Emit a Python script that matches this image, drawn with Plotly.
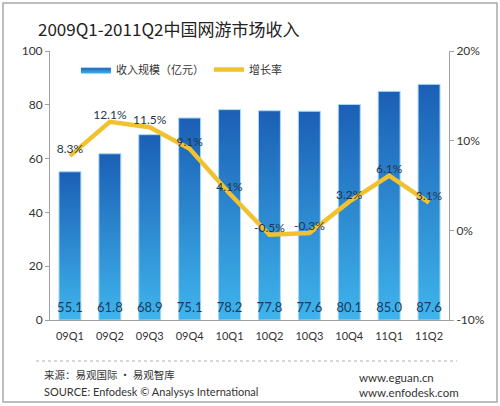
import plotly.graph_objects as go

categories = ["09Q1", "09Q2", "09Q3", "09Q4", "10Q1", "10Q2", "10Q3", "10Q4", "11Q1", "11Q2"]
revenue = [55.1, 61.8, 68.9, 75.1, 78.2, 77.8, 77.6, 80.1, 85.0, 87.6]
growth = [8.3, 12.1, 11.5, 9.1, 4.1, -0.5, -0.3, 3.2, 6.1, 3.1]
left_ticks = [0, 20, 40, 60, 80, 100]
right_ticks = [-10, 0, 10, 20]
right_tick_labels = ["-10%", "0%", "10%", "20%"]

FONT = "Lato, 'Noto Sans CJK SC', sans-serif"
CJK = "'Noto Sans CJK SC', Lato, sans-serif"
TXT = "#333333"
half = 0.275

fig = go.Figure()

# bars drawn as gradient-filled areas on numeric x positions
for i, v in enumerate(revenue):
    fig.add_trace(go.Scatter(
        x=[i - half, i - half, i + half, i + half, i - half],
        y=[0, v, v, 0, 0],
        mode="lines", fill="toself",
        line=dict(color="#a8d8f2", width=1),
        fillgradient=dict(type="vertical",
                          colorscale=[[0, "#3fb4ec"], [1, "#1b5fb5"]]),
        name="收入规模（亿元）", legendgroup="rev",
        showlegend=(i == 0), hoverinfo="skip",
    ))

# value labels at bar bottoms
fig.add_trace(go.Scatter(
    x=list(range(len(categories))), y=[4.3] * len(revenue),
    mode="text", text=[f"{v:.1f}" for v in revenue],
    textfont=dict(family=FONT, size=13, color="#1d3a5a"),
    showlegend=False, hoverinfo="skip",
))

fig.add_trace(go.Scatter(
    x=list(range(len(categories))), y=growth, yaxis="y2",
    mode="lines+text", text=[f"{g:.1f}%" for g in growth],
    textposition="top center",
    textfont=dict(family=FONT, size=12, color="#22364e"),
    line=dict(color="#f2c12e", width=4.5),
    name="增长率", hoverinfo="skip",
))

fig.update_layout(
    width=500, height=406,
    margin=dict(l=50, r=51, t=51, b=86),
    paper_bgcolor="white", plot_bgcolor="white",
    font=dict(family=FONT, size=12, color=TXT),
    title=dict(text="2009Q1-2011Q2中国网游市场收入", x=38 / 500, xanchor="left",
               y=1 - 30 / 406, yanchor="middle", yref="container",
               font=dict(family=CJK, size=17, color="#222222")),
    xaxis=dict(range=[-0.5, 9.5], tickvals=list(range(len(categories))), ticktext=categories,
               showline=True, linecolor="#a0a0a0", linewidth=1, ticks="",
               ticklabelstandoff=6,
               showgrid=False, zeroline=False, tickfont=dict(size=11, color=TXT)),
    yaxis=dict(range=[0, 100], tickvals=left_ticks, showline=True, linecolor="#a0a0a0",
               ticks="outside", ticklen=4, tickcolor="#a0a0a0", showgrid=False,
               zeroline=False, tickfont=dict(size=12, color=TXT)),
    yaxis2=dict(range=[-10, 20], overlaying="y", side="right", tickvals=right_ticks,
                ticktext=right_tick_labels, showline=True, linecolor="#a0a0a0",
                ticks="outside", ticklen=4, tickcolor="#a0a0a0", showgrid=False,
                zeroline=False, tickfont=dict(size=12, color=TXT)),
    legend=dict(orientation="h", x=0.065, y=0.985, xanchor="left", yanchor="top",
                bgcolor="rgba(0,0,0,0)", font=dict(family=CJK, size=11, color=TXT),
                itemwidth=30, tracegroupgap=0),
    shapes=[
        dict(type="rect", xref="paper", yref="paper", x0=-0.1178, x1=1.1203,
             y0=-0.3048, y1=1.1784, line=dict(color="#a8a8a8", width=1.5)),
        dict(type="line", xref="paper", yref="paper", x0=-0.035, x1=1.02,
             y0=-0.1524, y1=-0.1524, line=dict(color="#b0b0b0", width=1, dash="dot")),
    ],
    annotations=[
        dict(text="来源：易观国际 · 易观智库", xref="paper", yref="paper",
             x=(42 - 50) / 399, y=(320 - 375) / 269, xanchor="left", yanchor="middle",
             showarrow=False, font=dict(family=CJK, size=10.5, color=TXT)),
        dict(text="SOURCE: Enfodesk © Analysys International", xref="paper", yref="paper",
             x=(42 - 50) / 399, y=(320 - 391) / 269, xanchor="left", yanchor="middle",
             showarrow=False, font=dict(family=FONT, size=11, color=TXT)),
        dict(text="www.eguan.cn", xref="paper", yref="paper",
             x=(357 - 50) / 399, y=(320 - 377) / 269, xanchor="left", yanchor="middle",
             showarrow=False, font=dict(family=FONT, size=11.5, color=TXT)),
        dict(text="www.enfodesk.com", xref="paper", yref="paper",
             x=(357 - 50) / 399, y=(320 - 392) / 269, xanchor="left", yanchor="middle",
             showarrow=False, font=dict(family=FONT, size=11.5, color=TXT)),
    ],
)

fig.write_html("out.html", config={"displayModeBar": False},
               post_script="document.body.style.margin='0';")
